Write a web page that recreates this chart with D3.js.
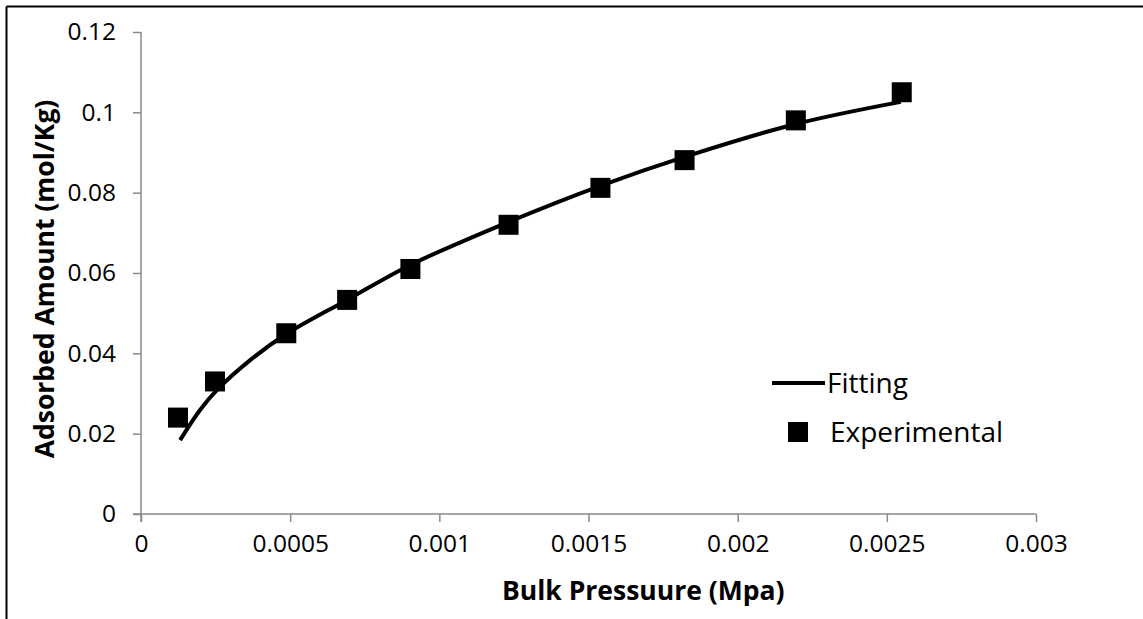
<!DOCTYPE html>
<html>
<head>
<meta charset="utf-8">
<script src="https://cdn.jsdelivr.net/npm/d3@7"></script>
<style>
  html, body { margin: 0; padding: 0; background: #fff; }
  svg { display: block; }
  text { font-family: "Open Sans", "Noto Sans", sans-serif; fill: #000; }
</style>
</head>
<body>
<svg id="chart" width="1143" height="619"></svg>
<script>
// Measured adsorption isotherm points
const expPressure = [0.000124, 0.000248, 0.000487, 0.000691, 0.000903, 0.001232, 0.00154, 0.001822, 0.002195, 0.00255];
const expAmount   = [0.024, 0.033, 0.045, 0.0533, 0.061, 0.072, 0.0812, 0.0881, 0.098, 0.105];

// Fitted isotherm curve, sampled
const fitPressure = [0.000131, 0.000198, 0.000255, 0.000366, 0.000487, 0.000691, 0.000903, 0.001232, 0.00154, 0.001822, 0.002195, 0.002547];
const fitAmount   = [0.0184, 0.0259, 0.0309, 0.0383, 0.0448, 0.0533, 0.0620, 0.0727, 0.0817, 0.0889, 0.0971, 0.1026];

const xTicks = [0, 0.0005, 0.001, 0.0015, 0.002, 0.0025, 0.003];
const xTickLabels = ["0", "0.0005", "0.001", "0.0015", "0.002", "0.0025", "0.003"];
const yTicks = [0, 0.02, 0.04, 0.06, 0.08, 0.1, 0.12];
const yTickLabels = ["0", "0.02", "0.04", "0.06", "0.08", "0.1", "0.12"];

const svg = d3.select("#chart");
const W = 1143, H = 619;
const m = { left: 141, right: 1036, top: 32, bottom: 514 };
const axisColor = "#898989";

// outer frame (top and left edges visible)
svg.append("line").attr("x1", 6.5).attr("x2", W).attr("y1", 6.5).attr("y2", 6.5)
  .attr("stroke", "#000").attr("stroke-width", 2);
svg.append("line").attr("x1", 6.5).attr("x2", 6.5).attr("y1", 6.5).attr("y2", H)
  .attr("stroke", "#000").attr("stroke-width", 2);

const x = d3.scaleLinear().domain([0, 0.003]).range([m.left, m.right]);
const y = d3.scaleLinear().domain([0, 0.12]).range([m.bottom, m.top]);

// x axis
const xAxis = d3.axisBottom(x).tickValues(xTicks)
  .tickFormat((d, i) => xTickLabels[i]).tickSizeOuter(0).tickSizeInner(8).tickPadding(13);
const gx = svg.append("g").attr("transform", `translate(0,${m.bottom})`).call(xAxis);
gx.select(".domain").attr("stroke", axisColor).attr("stroke-width", 1.5)
  .attr("d", `M${m.left - 8},0H${m.right}`);
gx.selectAll(".tick line").attr("stroke", axisColor).attr("stroke-width", 1.5);
gx.selectAll(".tick text").attr("font-size", 24.5).attr("font-family", "Open Sans").attr("fill", "#000");

// y axis
const yAxis = d3.axisLeft(y).tickValues(yTicks)
  .tickFormat((d, i) => yTickLabels[i]).tickSizeOuter(0).tickSizeInner(8).tickPadding(17);
const gy = svg.append("g").attr("transform", `translate(${m.left},0)`).call(yAxis);
gy.select(".domain").attr("stroke", axisColor).attr("stroke-width", 1.5)
  .attr("d", `M0,${m.bottom + 8}V${m.top}`);
gy.selectAll(".tick line").attr("stroke", axisColor).attr("stroke-width", 1.5);
gy.selectAll(".tick text").attr("font-size", 24.5).attr("font-family", "Open Sans").attr("fill", "#000");

// fitted curve
const fitData = fitPressure.map((p, i) => [p, fitAmount[i]]);
const line = d3.line().x(d => x(d[0])).y(d => y(d[1])).curve(d3.curveCatmullRom);
svg.append("path").datum(fitData).attr("d", line)
  .attr("fill", "none").attr("stroke", "#000").attr("stroke-width", 4);

// experimental points
const sq = 20;
const expData = expPressure.map((p, i) => [p, expAmount[i]]);
svg.append("g").selectAll("rect").data(expData).join("rect")
  .attr("x", d => x(d[0]) - sq / 2).attr("y", d => y(d[1]) - sq / 2)
  .attr("width", sq).attr("height", sq).attr("fill", "#000");

// legend
const lg = svg.append("g");
lg.append("line").attr("x1", 772).attr("x2", 825).attr("y1", 383).attr("y2", 383)
  .attr("stroke", "#000").attr("stroke-width", 4);
lg.append("text").attr("x", 827).attr("y", 393).attr("font-size", 28).text("Fitting");
lg.append("rect").attr("x", 788).attr("y", 422).attr("width", sq).attr("height", sq).attr("fill", "#000");
lg.append("text").attr("x", 830).attr("y", 442).attr("font-size", 28).text("Experimental");

// axis titles
svg.append("text").attr("x", 502).attr("y", 600)
  .attr("text-anchor", "start").attr("font-size", 26.5).attr("font-weight", "bold")
  .text("Bulk Pressuure (Mpa)");
svg.append("text").attr("transform", `translate(54,279) rotate(-90)`)
  .attr("text-anchor", "middle").attr("font-size", 26.5).attr("font-weight", "bold")
  .text("Adsorbed Amount (mol/Kg)");
</script>
</body>
</html>
